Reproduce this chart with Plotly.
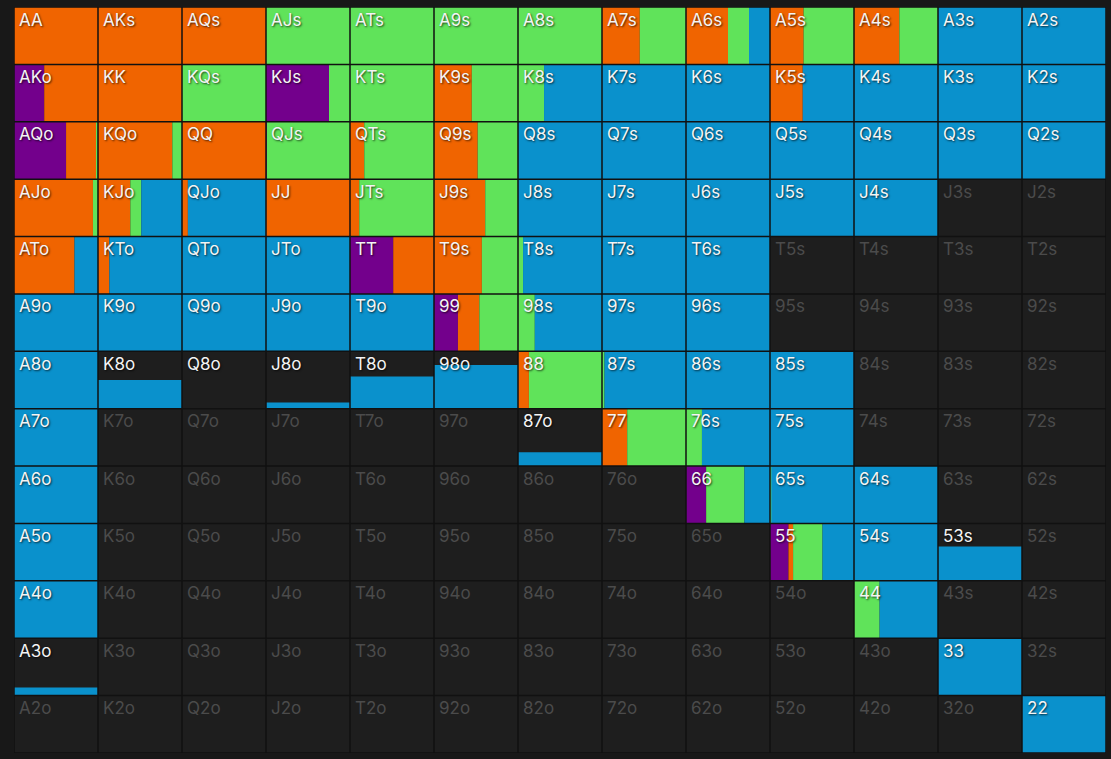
import plotly.graph_objects as go

RANKS = "AKQJT98765432"

# width share of each action inside a cell (row = first rank, col = second rank)
PURPLE = [
    [0, 0, 0, 0, 0, 0, 0, 0, 0, 0, 0, 0, 0],
    [.36, 0, 0, .75, 0, 0, 0, 0, 0, 0, 0, 0, 0],
    [.62, 0, 0, .01, 0, 0, 0, 0, 0, 0, 0, 0, 0],
    [0, 0, 0, 0, 0, 0, 0, 0, 0, 0, 0, 0, 0],
    [0, 0, 0, 0, .515, 0, 0, 0, 0, 0, 0, 0, 0],
    [0, 0, 0, 0, 0, .285, 0, 0, 0, 0, 0, 0, 0],
    [0, 0, 0, 0, 0, 0, 0, 0, 0, 0, 0, 0, 0],
    [0, 0, 0, 0, 0, 0, 0, 0, 0, 0, 0, 0, 0],
    [0, 0, 0, 0, 0, 0, 0, 0, .24, 0, 0, 0, 0],
    [0, 0, 0, 0, 0, 0, 0, 0, 0, .22, 0, 0, 0],
    [0, 0, 0, 0, 0, 0, 0, 0, 0, 0, 0, 0, 0],
    [0, 0, 0, 0, 0, 0, 0, 0, 0, 0, 0, 0, 0],
    [0, 0, 0, 0, 0, 0, 0, 0, 0, 0, 0, 0, 0],
]
ORANGE = [
    [1, 1, 1, 0, 0, 0, 0, .45, .50, .40, .54, 0, 0],
    [.64, 1, 0, 0, 0, .45, 0, 0, 0, .39, 0, 0, 0],
    [.36, .885, 1, 0, .17, .52, 0, 0, 0, 0, 0, 0, 0],
    [.94, .385, .07, 1, .11, .61, 0, 0, 0, 0, 0, 0, 0],
    [.72, .135, 0, 0, .485, .57, 0, 0, 0, 0, 0, 0, 0],
    [0, 0, 0, 0, 0, .255, 0, 0, 0, 0, 0, 0, 0],
    [0, 0, 0, 0, 0, 0, .13, 0, 0, 0, 0, 0, 0],
    [0, 0, 0, 0, 0, 0, 0, .30, 0, 0, 0, 0, 0],
    [0, 0, 0, 0, 0, 0, 0, 0, 0, 0, 0, 0, 0],
    [0, 0, 0, 0, 0, 0, 0, 0, 0, .055, 0, 0, 0],
    [0, 0, 0, 0, 0, 0, 0, 0, 0, 0, 0, 0, 0],
    [0, 0, 0, 0, 0, 0, 0, 0, 0, 0, 0, 0, 0],
    [0, 0, 0, 0, 0, 0, 0, 0, 0, 0, 0, 0, 0],
]
GREEN = [
    [0, 0, 0, 1, 1, 1, 1, .55, .25, .60, .46, 0, 0],
    [0, 0, 1, .25, 1, .55, .31, 0, 0, 0, 0, 0, 0],
    [.02, .115, 0, .99, .83, .48, 0, 0, 0, 0, 0, 0, 0],
    [.06, .13, 0, 0, .89, .39, 0, 0, 0, 0, 0, 0, 0],
    [0, 0, 0, 0, 0, .43, .06, 0, 0, 0, 0, 0, 0],
    [0, 0, 0, 0, 0, .46, .20, 0, 0, 0, 0, 0, 0],
    [0, 0, 0, 0, 0, 0, .87, .03, 0, 0, 0, 0, 0],
    [0, 0, 0, 0, 0, 0, 0, .70, .19, 0, 0, 0, 0],
    [0, 0, 0, 0, 0, 0, 0, 0, .455, .015, 0, 0, 0],
    [0, 0, 0, 0, 0, 0, 0, 0, 0, .35, 0, 0, 0],
    [0, 0, 0, 0, 0, 0, 0, 0, 0, 0, .305, 0, 0],
    [0, 0, 0, 0, 0, 0, 0, 0, 0, 0, 0, 0, 0],
    [0, 0, 0, 0, 0, 0, 0, 0, 0, 0, 0, 0, 0],
]
BLUE = [
    [0, 0, 0, 0, 0, 0, 0, 0, .25, 0, 0, 1, 1],
    [0, 0, 0, 0, 0, 0, .69, 1, 1, .61, 1, 1, 1],
    [0, 0, 0, 0, 0, 0, 1, 1, 1, 1, 1, 1, 1],
    [0, .485, .93, 0, 0, 0, 1, 1, 1, 1, 1, 0, 0],
    [.28, .865, 1, 1, 0, 0, .94, 1, 1, 0, 0, 0, 0],
    [1, 1, 1, 1, 1, 0, .80, 1, 1, 0, 0, 0, 0],
    [1, 1, 1, 1, 1, 1, 0, .97, 1, 1, 0, 0, 0],
    [1, 0, 0, 0, 0, 0, 1, 0, .81, 1, 0, 0, 0],
    [1, 0, 0, 0, 0, 0, 0, 0, .305, .985, 1, 0, 0],
    [1, 0, 0, 0, 0, 0, 0, 0, 0, .375, 1, 1, 0],
    [1, 0, 0, 0, 0, 0, 0, 0, 0, 0, .695, 0, 0],
    [1, 0, 0, 0, 0, 0, 0, 0, 0, 0, 0, 1, 0],
    [0, 0, 0, 0, 0, 0, 0, 0, 0, 0, 0, 0, 1],
]
# share of the combo that is in the range (bar height)
FREQ = [
    [1, 1, 1, 1, 1, 1, 1, 1, 1, 1, 1, 1, 1],
    [1, 1, 1, 1, 1, 1, 1, 1, 1, 1, 1, 1, 1],
    [1, 1, 1, 1, 1, 1, 1, 1, 1, 1, 1, 1, 1],
    [1, 1, 1, 1, 1, 1, 1, 1, 1, 1, 1, 0, 0],
    [1, 1, 1, 1, 1, 1, 1, 1, 1, 0, 0, 0, 0],
    [1, 1, 1, 1, 1, 1, 1, 1, 1, 0, 0, 0, 0],
    [1, .50, .004, .11, .56, .76, 1, 1, 1, 1, 0, 0, 0],
    [1, 0, 0, 0, 0, 0, .24, 1, 1, 1, 0, 0, 0],
    [1, 0, 0, 0, 0, 0, 0, 0, 1, 1, 1, 0, 0],
    [1, 0, 0, 0, 0, 0, 0, 0, 0, 1, 1, .60, 0],
    [1, 0, 0, 0, 0, 0, 0, 0, 0, 0, 1, 0, 0],
    [.14, 0, 0, 0, 0, 0, 0, 0, 0, 0, 0, 1, 0],
    [0, 0, 0, 0, 0, 0, 0, 0, 0, 0, 0, 0, 1],
]

ACTIONS = [
    ("purple", PURPLE, "#73008c"),
    ("orange", ORANGE, "#f06400"),
    ("green", GREEN, "#60e35a"),
    ("blue", BLUE, "#0a91cc"),
]


def hand(r, c):
    if r == c:
        return RANKS[r] * 2
    if c > r:
        return RANKS[r] + RANKS[c] + "s"
    return RANKS[c] + RANKS[r] + "o"


fig = go.Figure()

# stacked segments, left to right, in each cell
segs = {name: {"x": [], "y": [], "base": [], "width": []} for name, _, _ in ACTIONS}
for r in range(13):
    for c in range(13):
        left = 0.0
        for name, mat, _ in ACTIONS:
            w = mat[r][c]
            if w > 0 and FREQ[r][c] > 0:
                segs[name]["x"].append(c + left + w / 2)
                segs[name]["width"].append(w)
                segs[name]["base"].append(12 - r)
                segs[name]["y"].append(FREQ[r][c])
            left += w

for name, _, color in ACTIONS:
    s = segs[name]
    fig.add_trace(
        go.Bar(
            x=s["x"],
            y=s["y"],
            base=s["base"],
            width=s["width"],
            marker=dict(color=color, line=dict(width=0)),
            hoverinfo="skip",
            showlegend=False,
        )
    )

# hand labels
on_x, on_y, on_t, off_x, off_y, off_t = [], [], [], [], [], []
for r in range(13):
    for c in range(13):
        if FREQ[r][c] > 0:
            on_x.append(c + 0.06)
            on_y.append(13 - r - 0.1)
            on_t.append(hand(r, c))
        else:
            off_x.append(c + 0.06)
            off_y.append(13 - r - 0.1)
            off_t.append(hand(r, c))

fig.add_trace(
    go.Scatter(
        x=on_x, y=on_y, text=on_t, mode="text", textposition="bottom right",
        textfont=dict(family="Inter", size=17, color="#f4f4f4",
                      shadow="1px 1px 2px rgba(0,0,0,0.7)"),
        hoverinfo="skip", showlegend=False,
    )
)
fig.add_trace(
    go.Scatter(
        x=off_x, y=off_y, text=off_t, mode="text", textposition="bottom right",
        textfont=dict(family="Inter", size=17, color="#4b4b4b"),
        hoverinfo="skip", showlegend=False,
    )
)

# cell borders on top of the bars
shapes = []
for k in range(14):
    shapes.append(dict(type="line", xref="x", yref="y", x0=k, x1=k, y0=0, y1=13,
                       line=dict(color="#111111", width=1.5), layer="above"))
    shapes.append(dict(type="line", xref="x", yref="y", x0=0, x1=13, y0=k, y1=k,
                       line=dict(color="#111111", width=1.5), layer="above"))

fig.update_layout(
    width=1111,
    height=759,
    margin=dict(l=14, r=5, t=7, b=6, pad=0),
    paper_bgcolor="#181818",
    plot_bgcolor="#1e1e1e",
    barmode="overlay",
    shapes=shapes,
    showlegend=False,
)
fig.update_xaxes(range=[0, 13], visible=False, fixedrange=True)
fig.update_yaxes(range=[0, 13], visible=False, fixedrange=True)

fig.write_html(
    "out.html",
    config=dict(displayModeBar=False),
    post_script="document.body.style.margin='0';document.body.style.overflow='hidden';",
)
